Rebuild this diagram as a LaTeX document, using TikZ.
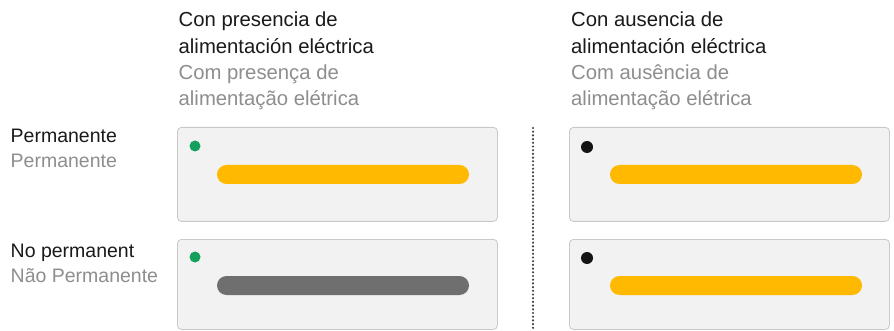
\documentclass[tikz,border=0pt]{standalone}
\usepackage{fontspec}
\setmainfont{Liberation Sans}
\definecolor{txtdark}{HTML}{1A1A1A}
\definecolor{txtgrey}{HTML}{8E8E8E}
\definecolor{panelfill}{HTML}{F2F2F2}
\definecolor{paneledge}{HTML}{C9C9C9}
\definecolor{ledgreen}{HTML}{12A05C}
\definecolor{ledblack}{HTML}{141414}
\definecolor{barorange}{HTML}{FFB900}
\definecolor{bargrey}{HTML}{6F6F6F}
\definecolor{dotline}{HTML}{404040}
\begin{document}
\begin{tikzpicture}[x=1pt,y=-1pt,
	head/.style={anchor=base west,inner sep=0pt,text=txtdark,font=\fontsize{20.3}{24}\selectfont},
	sub/.style={head,text=txtgrey},
	rowhead/.style={head,font=\fontsize{19.5}{24}\selectfont},
	rowsub/.style={rowhead,text=txtgrey},
	panel/.style={draw=paneledge,fill=panelfill,line width=0.8pt,rounded corners=4pt,anchor=north west,minimum width=320pt,inner sep=0pt},
	led/.style={circle,inner sep=0pt,minimum size=11pt},
	bar/.style={rounded corners=9.5pt,inner sep=0pt,minimum width=252pt,minimum height=19pt}]
	\useasboundingbox[fill=white] (0,0) rectangle (894,331);
	% column headings
	\node[head] (onA) at (178.5,27) {Con presencia de};
	\node[head] (onB) at (178.5,53.3) {alimentación eléctrica};
	\node[sub] (onC) at (178.5,79.6) {Com presença de};
	\node[sub] (onD) at (178.5,106) {alimentação elétrica};
	\node[head] (offA) at (571,27) {Con ausencia de};
	\node[head] (offB) at (571,53.3) {alimentación eléctrica};
	\node[sub] (offC) at (571,79.6) {Com ausência de};
	\node[sub] (offD) at (571,106) {alimentação elétrica};
	% row labels
	\node[rowhead] (permA) at (10.5,143) {Permanente};
	\node[rowsub] (permB) at (10.5,168) {Permanente};
	\node[rowhead] (tempA) at (10.5,257) {No permanent};
	\node[rowsub] (tempB) at (10.5,282) {Não Permanente};
	% panels
	\node[panel,minimum height=94pt] (onperm) at (177,127) {};
	\node[panel,minimum height=90pt] (ontemp) at (177,239) {};
	\node[panel,minimum height=94pt] (offperm) at (569,127) {};
	\node[panel,minimum height=90pt] (offtemp) at (569,239) {};
	% leds
	\node[led,fill=ledgreen] (ledonperm) at (195,146) {};
	\node[led,fill=ledgreen] (ledontemp) at (195,257) {};
	\node[led,fill=ledblack,minimum size=12pt] (ledoffperm) at (587,147) {};
	\node[led,fill=ledblack,minimum size=12pt] (ledofftemp) at (587,258) {};
	% bars
	\node[bar,fill=barorange] (baronperm) at (343,174.5) {};
	\node[bar,fill=bargrey] (barontemp) at (343,285.5) {};
	\node[bar,fill=barorange] (baroffperm) at (736,174.5) {};
	\node[bar,fill=barorange] (barofftemp) at (736,285.5) {};
	% divider
	\coordinate (divtop) at (533,128);
	\coordinate (divbot) at (533,331);
	\draw[dotline,line width=2.4pt,line cap=round,dash pattern=on 0pt off 3.7pt] (divtop) -- (divbot);
\end{tikzpicture}
\end{document}
